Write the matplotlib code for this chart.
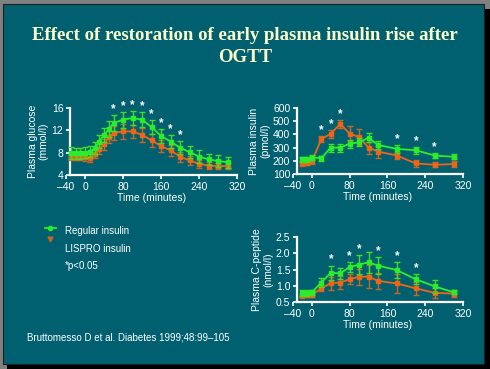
import matplotlib
matplotlib.use("Agg")
import matplotlib.pyplot as plt
from matplotlib.patches import Rectangle

# times (minutes)
t_glu = [-30, -20, -10, 0, 10, 20, 30, 40, 50, 60, 80, 100, 120, 140, 160, 180, 200, 220, 240, 260, 280, 300]
t_ins = [-20, -10, 0, 20, 40, 60, 80, 100, 120, 140, 180, 220, 260, 300]

# plasma glucose (mmol/l)
glu_reg = [8.0, 7.9, 7.9, 8.0, 8.2, 8.8, 10.0, 11.2, 12.2, 13.3, 13.9, 14.2, 13.9, 12.6, 11.0, 10.0, 8.9, 8.1, 7.3, 6.8, 6.5, 6.3]
glu_reg_err = [1.1, 1.0, 1.0, 1.0, 1.0, 1.1, 1.2, 1.3, 1.4, 1.5, 1.4, 1.2, 1.3, 1.3, 1.2, 1.2, 1.2, 1.1, 1.1, 1.0, 1.0, 1.0]
glu_lis = [7.2, 7.2, 7.2, 7.2, 7.0, 7.8, 8.6, 9.5, 10.8, 11.5, 11.8, 11.8, 11.2, 10.2, 9.2, 8.4, 7.3, 6.6, 6.0, 5.7, 5.6, 5.6]
glu_lis_err = [0.6, 0.6, 0.6, 0.7, 0.7, 0.8, 0.9, 1.0, 1.1, 1.2, 1.3, 1.2, 1.2, 1.1, 1.0, 1.0, 0.9, 0.8, 0.7, 0.6, 0.6, 0.6]
glu_sig = [60, 80, 100, 120, 140, 160, 180, 200]

# plasma insulin (pmol/l)
ins_reg = [210, 210, 225, 220, 300, 300, 330, 340, 375, 320, 290, 280, 240, 230]
ins_reg_err = [20, 20, 20, 20, 30, 30, 30, 30, 35, 30, 30, 25, 20, 20]
ins_lis = [180, 185, 195, 365, 405, 480, 405, 380, 300, 270, 240, 180, 170, 175]
ins_lis_err = [20, 20, 20, 20, 30, 30, 55, 60, 45, 45, 30, 25, 20, 20]
ins_sig = [20, 40, 60, 180, 220, 260]

# plasma C-peptide (nmol/l)
cp_reg = [0.78, 0.78, 0.80, 1.10, 1.40, 1.38, 1.58, 1.65, 1.72, 1.62, 1.48, 1.20, 0.98, 0.80]
cp_reg_err = [0.10, 0.10, 0.08, 0.15, 0.22, 0.18, 0.15, 0.30, 0.32, 0.25, 0.25, 0.15, 0.20, 0.06]
cp_lis = [0.70, 0.72, 0.72, 0.92, 1.08, 1.10, 1.20, 1.28, 1.28, 1.15, 1.07, 0.92, 0.78, 0.76]
cp_lis_err = [0.05, 0.06, 0.06, 0.08, 0.20, 0.20, 0.15, 0.25, 0.35, 0.25, 0.30, 0.20, 0.15, 0.10]
cp_sig = [40, 80, 100, 140, 180, 220]

BG = "#00606F"
GREEN = "#2BEE2B"
GREEN_E = "#44DD22"
ORANGE = "#F06418"
ORANGE_E = "#C8662A"
FONT = "Liberation Sans"

fig = plt.figure(figsize=(4.9, 3.69), dpi=100)
fig.patch.set_facecolor("#808080")
W, H = 490.0, 369.0
fig.add_artist(Rectangle((7 / W, 0), 1 - 7 / W, 1 - 9 / H, transform=fig.transFigure,
                         facecolor="black", edgecolor="none", zorder=-2))
fig.add_artist(Rectangle((3 / W, 5 / H), 481 / W, 360 / H, transform=fig.transFigure,
                         facecolor=BG, edgecolor="#202020", lw=0.8, zorder=-1))

fig.text(0.5, 1 - 35 / H, "Effect of restoration of early plasma insulin rise after",
         ha="center", va="center", color="#FFFFCC", fontsize=13.5,
         fontweight="bold", family="Liberation Serif")
fig.text(0.5, 1 - 58 / H, "OGTT", ha="center", va="center", color="#FFFFCC",
         fontsize=13.5, fontweight="bold", family="Liberation Serif")


def panel(rect, t, reg, reg_err, lis, lis_err, sig, ylim, yticks, ylabel, ytickfmt):
    ax = fig.add_axes(rect)
    ax.set_facecolor("none")
    ax.errorbar(t, lis, yerr=lis_err, color=ORANGE, ecolor=ORANGE_E, marker="s",
                ms=3.2, lw=1.3, elinewidth=1.0, capsize=2, capthick=1.0, zorder=3)
    ax.errorbar(t, reg, yerr=reg_err, color=GREEN, ecolor=GREEN_E, marker="s",
                ms=3.2, lw=1.3, elinewidth=1.0, capsize=2, capthick=1.0, zorder=4)
    span = ylim[1] - ylim[0]
    for s in sig:
        i = t.index(s)
        top = max(reg[i] + reg_err[i], lis[i] + lis_err[i])
        ax.text(s, top + span * 0.0, "*", color="white", ha="center", va="bottom",
                fontsize=8.5, fontweight="bold", family=FONT)
    ax.set_xlim(-40, 320)
    ax.set_ylim(*ylim)
    ax.set_xticks([-40, 0, 80, 160, 240, 320])
    ax.set_xticklabels(["\u201340", "0", "80", "160", "240", "320"])
    ax.set_yticks(yticks)
    ax.set_yticklabels([ytickfmt.format(v) for v in yticks])
    for side in ("top", "right"):
        ax.spines[side].set_visible(False)
    for side in ("left", "bottom"):
        ax.spines[side].set_color("white")
        ax.spines[side].set_linewidth(1.6)
    ax.spines["left"].set_position(("data", -31))
    ax.spines["bottom"].set_bounds(-31, 320)
    ax.tick_params(colors="white", labelsize=7.5, width=1.2, length=3, pad=2)
    for lab in ax.get_xticklabels() + ax.get_yticklabels():
        lab.set_family(FONT)
    ax.set_xlabel("Time (minutes)", color="white", fontsize=7.5, family=FONT, labelpad=1)
    ax.set_ylabel(ylabel, color="white", fontsize=7.5, family=FONT, labelpad=2,
                  linespacing=1.1)
    return ax


panel([66 / W, 1 - 175 / H, 171 / W, 67 / H], t_glu, glu_reg, glu_reg_err, glu_lis,
      glu_lis_err, glu_sig, (4, 16), [4, 8, 12, 16], "Plasma glucose\n(mmol/l)", "{:g}")
panel([293 / W, 1 - 174 / H, 170 / W, 66 / H], t_ins, ins_reg, ins_reg_err, ins_lis,
      ins_lis_err, ins_sig, (100, 600), [100, 200, 300, 400, 500, 600],
      "Plasma insulin\n(pmol/l)", "{:g}")
panel([293 / W, 1 - 302 / H, 170 / W, 65 / H], t_ins, cp_reg, cp_reg_err, cp_lis,
      cp_lis_err, cp_sig, (0.5, 2.5), [0.5, 1.0, 1.5, 2.0, 2.5],
      "Plasma C-peptide\n(nmol/l)", "{:.1f}")

# legend
fig.add_artist(plt.Line2D([45 / W, 56 / W], [1 - 228 / H, 1 - 228 / H],
                          transform=fig.transFigure, color=GREEN, lw=1.3))
fig.add_artist(plt.Line2D([50 / W], [1 - 228 / H], transform=fig.transFigure,
                          color=GREEN, marker="o", ms=3, lw=0))
fig.add_artist(plt.Line2D([50 / W], [1 - 239 / H], transform=fig.transFigure,
                          color=ORANGE_E, marker="v", ms=3.5, lw=0))
fig.text(65 / W, 1 - 231 / H, "Regular insulin", color="white", fontsize=7,
         family=FONT, va="center")
fig.text(65 / W, 1 - 249 / H, "LISPRO insulin", color="white", fontsize=7,
         family=FONT, va="center")
fig.text(65 / W, 1 - 266 / H, "*p<0.05", color="white", fontsize=7,
         family=FONT, va="center")
fig.text(27 / W, 1 - 338 / H, "Bruttomesso D et al. Diabetes 1999;48:99\u2013105",
         color="white", fontsize=7, family=FONT, va="center")

fig.savefig("out.png", dpi=100, facecolor=fig.get_facecolor())
